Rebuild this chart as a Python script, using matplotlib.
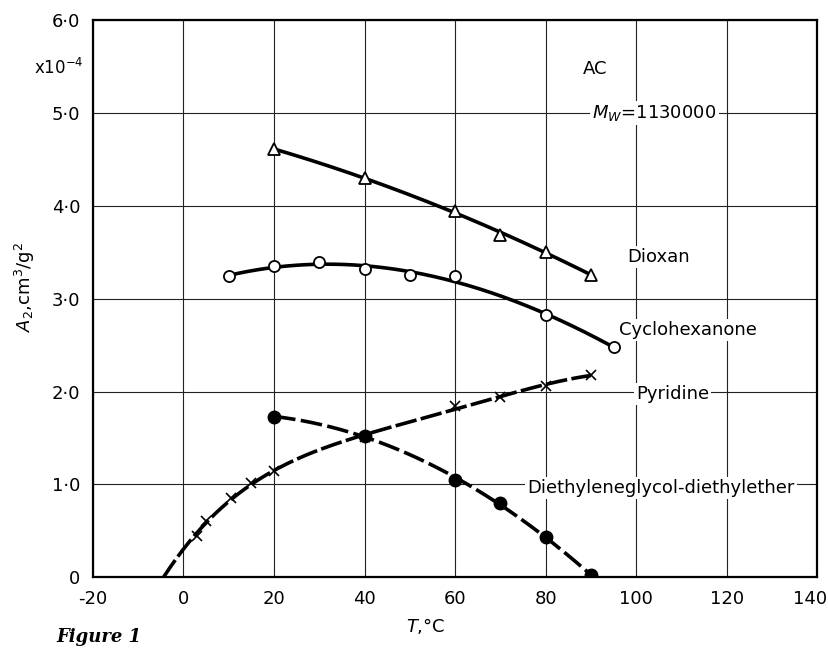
import matplotlib.pyplot as plt
import matplotlib.transforms as mtransforms
import numpy as np

# values (A2 in units of 1e-4 cm3/g2)
dioxan_T = [20, 40, 60, 70, 80, 90]
dioxan_A = [4.61, 4.30, 3.94, 3.69, 3.50, 3.26]

cyclo_T = [10, 20, 30, 40, 50, 60, 80, 95]
cyclo_A = [3.24, 3.35, 3.40, 3.32, 3.25, 3.24, 2.82, 2.48]

pyr_T = [3, 5, 10.5, 15, 20, 40, 60, 70, 80, 90]
pyr_A = [0.44, 0.60, 0.85, 1.02, 1.14, 1.51, 1.84, 1.94, 2.06, 2.18]
pyr_T0 = -4.5  # where the extrapolated curve meets zero

deg_T = [20, 40, 60, 70, 80, 90]
deg_A = [1.73, 1.52, 1.05, 0.80, 0.43, 0.02]

xticks = [-20, 0, 20, 40, 60, 80, 100, 120, 140]
yticks = [0, 1, 2, 3, 4, 5, 6]
ytick_labels = ["0", "1·0", "2·0", "3·0", "4·0", "5·0", "6·0"]

plt.rcParams['font.family'] = ['DejaVu Sans']
plt.rcParams['mathtext.fontset'] = 'dejavusans'

fig = plt.figure(figsize=(8.29, 6.5), dpi=100)
ax = fig.add_axes([0.112, 0.112, 0.874, 0.857])
ax.set_xlim(-20, 140)
ax.set_ylim(0, 6)
ax.set_xticks(xticks)
ax.set_xticklabels([str(t) for t in xticks])
ax.set_yticks(yticks)
ax.set_yticklabels(ytick_labels)
ax.tick_params(length=0, labelsize=13, pad=9)
ax.grid(True, color='#222222', lw=0.8)
ax.set_axisbelow(True)
for s in ax.spines.values():
    s.set_linewidth(1.6)

# last x label sits right at the figure edge, nudge it in a bit
last = ax.get_xticklabels()[-1]
last.set_transform(last.get_transform() + mtransforms.ScaledTranslation(-7 / 100, 0, fig.dpi_scale_trans))


def smooth(T, A, deg, t0=None, t1=None):
    c = np.polyfit(T, A, deg)
    t = np.linspace(t0 if t0 is not None else min(T), t1 if t1 is not None else max(T), 200)
    return t, np.polyval(c, t)


lw = 2.6
t, a = smooth(dioxan_T, dioxan_A, 2)
ax.plot(t, a, color='black', lw=lw, zorder=3)
ax.plot(dioxan_T, dioxan_A, '^', ms=8, mfc='white', mec='black', mew=1.3, zorder=4)

t, a = smooth(cyclo_T, cyclo_A, 3)
ax.plot(t, a, color='black', lw=lw, zorder=3)
ax.plot(cyclo_T, cyclo_A, 'o', ms=8, mfc='white', mec='black', mew=1.3, zorder=4)

t, a = smooth([pyr_T0] + pyr_T, [0] + pyr_A, 4)
ax.plot(t, a, color='black', lw=lw, dashes=(6, 1.2), zorder=3)
ax.plot(pyr_T, pyr_A, 'x', ms=7, mec='black', mew=1.2, zorder=4)

t, a = smooth(deg_T, deg_A, 2)
ax.plot(t, a, color='black', lw=lw, dashes=(6, 1.5), zorder=3)
ax.plot(deg_T, deg_A, 'o', ms=9, mfc='black', mec='black', zorder=4)

box = dict(facecolor='white', edgecolor='none', pad=1.5)
ax.text(91, 5.47, "AC", fontsize=13, ha='center', va='center')
ax.text(104, 5.0, "$M_W$=1130000", fontsize=13, ha='center', va='center', bbox=box)
ax.text(105, 3.45, "Dioxan", fontsize=13, ha='center', va='center', bbox=box)
ax.text(111.5, 2.66, "Cyclohexanone", fontsize=13, ha='center', va='center', bbox=box)
ax.text(108, 1.97, "Pyridine", fontsize=13, ha='center', va='center', bbox=box)
ax.text(105.5, 0.96, "Diethyleneglycol-diethylether", fontsize=13, ha='center', va='center', bbox=box)

fig.text(0.071, 0.895, "x10$^{-4}$", fontsize=12, ha='center', va='center')
fig.text(0.03, 0.558, "$A_2$,cm$^3$/g$^2$", fontsize=13, rotation=90, ha='center', va='center')
fig.text(0.513, 0.037, "$T$,°C", fontsize=13, ha='center', va='center')
fig.text(0.068, 0.02, "Figure 1", fontsize=13, family='DejaVu Serif', style='italic', weight='bold', ha='left', va='center')

fig.savefig('out.png', dpi=100)
